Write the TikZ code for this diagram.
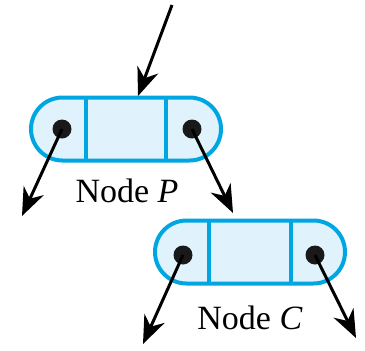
\documentclass[tikz,border=0pt]{standalone}
\usepackage{fontspec}
\setmainfont{Liberation Serif}
\usetikzlibrary{arrows.meta,shapes.misc}
\definecolor{linkblue}{RGB}{0,166,226}
\definecolor{cellfill}{RGB}{224,242,252}
\tikzset{
  x=0.5pt, y=-0.5pt,
  listnode/.style={rounded rectangle, draw=linkblue, fill=cellfill, line width=2pt,
    minimum width=95pt, minimum height=31.5pt, inner sep=0pt},
  divider/.style={draw=linkblue, line width=2pt},
  ptr/.style={line width=1.5pt, -{Stealth[length=14pt,width=11pt,inset=4.5pt]}},
  dot/.style={circle, fill=black!90, inner sep=0pt, minimum size=9.5pt},
  caption/.style={font=\fontsize{17}{19}\selectfont}
}
\begin{document}
\begin{tikzpicture}
\useasboundingbox (0,0) rectangle (365,350);
% node P
\node[listnode] (P) at (126,129) {};
\draw[divider] (86,96) -- (86,162);
\draw[divider] (166,96) -- (166,162);
\node[dot] (pl) at (62,129) {};
\node[dot] (pr) at (192,129) {};
\node[caption] (lp) at (127,191) {Node \textit{P}};
% node C
\node[listnode] (C) at (250,252) {};
\draw[divider] (209,219) -- (209,285);
\draw[divider] (291,219) -- (291,285);
\node[dot] (cl) at (183,255) {};
\node[dot] (cr) at (315,255) {};
\node[caption] (lc) at (250,318) {Node \textit{C}};
% pointers
\coordinate (top) at (172,5);
\coordinate (plend) at (22,216);
\coordinate (prend) at (233,213);
\coordinate (clend) at (143,344);
\coordinate (crend) at (356,338);
\draw[ptr] (top) -- (138,96);
\draw[ptr] (pl.center) -- (plend);
\draw[ptr] (pr.center) -- (prend);
\draw[ptr] (cl.center) -- (clend);
\draw[ptr] (cr.center) -- (crend);
\end{tikzpicture}
\end{document}
